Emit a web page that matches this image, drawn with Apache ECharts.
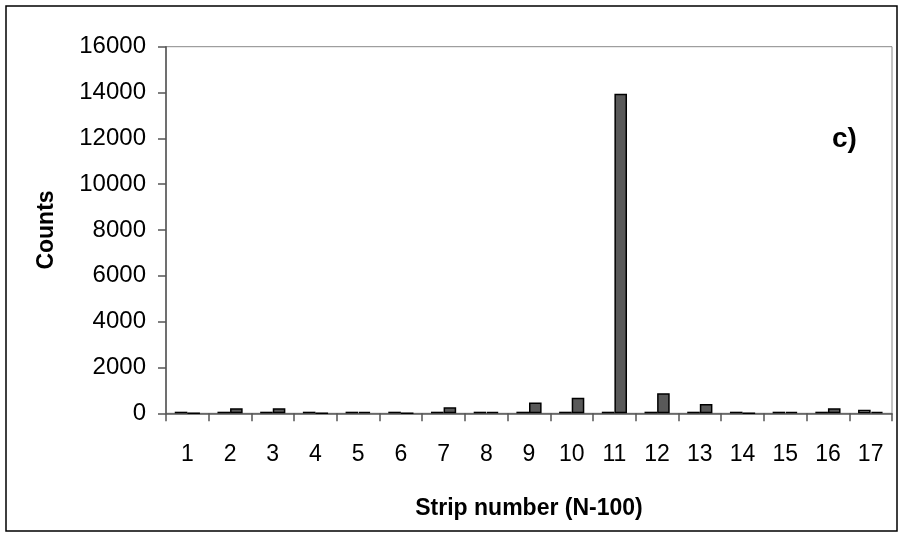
<!DOCTYPE html>
<html>
<head>
<meta charset="utf-8">
<script src="https://cdn.jsdelivr.net/npm/echarts@6/dist/echarts.min.js"></script>
<style>
html,body{margin:0;padding:0;background:#fff;}
#c{width:903px;height:537px;}
</style>
</head>
<body>
<div id="c"></div>
<script>
var categories = ['1','2','3','4','5','6','7','8','9','10','11','12','13','14','15','16','17'];
var seriesA = [70, 70, 70, 70, 70, 70, 70, 70, 70, 70, 70, 70, 70, 70, 70, 70, 160];
var seriesB = [0, 220, 220, 0, 60, 0, 260, 60, 470, 680, 13950, 880, 410, 0, 60, 220, 60];
var yTicks = [0, 2000, 4000, 6000, 8000, 10000, 12000, 14000, 16000];

var chart = echarts.init(document.getElementById('c'), null, {renderer: 'canvas'});
var font = '"Liberation Sans", Arial, sans-serif';
chart.setOption({
  animation: false,
  backgroundColor: '#fff',
  grid: {left: 166, right: 11, top: 46.7, bottom: 123.7, show: true, borderColor: '#888', borderWidth: 1, backgroundColor: 'transparent'},
  graphic: [
    {type: 'rect', shape: {x: 6, y: 6, width: 891, height: 525}, style: {fill: 'none', stroke: '#000', lineWidth: 1.5}, z: 0},
    {type: 'text', left: 832, top: 125, style: {text: 'c)', font: 'bold 28px ' + font, fill: '#000'}}
  ],
  xAxis: {
    type: 'category',
    data: categories,
    name: 'Strip number (N-100)',
    nameLocation: 'middle',
    nameGap: 84,
    nameTextStyle: {fontFamily: font, fontWeight: 'bold', fontSize: 23, color: '#000'},
    axisLine: {lineStyle: {color: '#555', width: 1.5}},
    axisTick: {show: true, alignWithLabel: false, length: 8, lineStyle: {color: '#555', width: 1.5}},
    axisLabel: {fontFamily: font, fontSize: 23, color: '#000', margin: 30, interval: 0}
  },
  yAxis: {
    type: 'value',
    min: yTicks[0],
    max: yTicks[yTicks.length - 1],
    interval: 2000,
    name: 'Counts',
    nameLocation: 'middle',
    nameGap: 108,
    nameRotate: 90,
    nameTextStyle: {fontFamily: font, fontWeight: 'bold', fontSize: 23, color: '#000'},
    axisLine: {show: true, lineStyle: {color: '#555', width: 1.5}},
    axisTick: {show: true, length: 8, lineStyle: {color: '#555', width: 1.5}},
    splitLine: {show: false},
    axisLabel: {fontFamily: font, fontSize: 24, color: '#000', margin: 20, formatter: function (v) { return String(v); }}
  },
  series: [
    {type: 'bar', data: seriesA, barGap: '0%', barCategoryGap: '41%',
     itemStyle: {color: '#c0c0c0', borderColor: '#000', borderWidth: 1.5}},
    {type: 'bar', data: seriesB, barGap: '0%', barCategoryGap: '41%',
     itemStyle: {color: '#595959', borderColor: '#000', borderWidth: 1.5}}
  ]
});
</script>
</body>
</html>
